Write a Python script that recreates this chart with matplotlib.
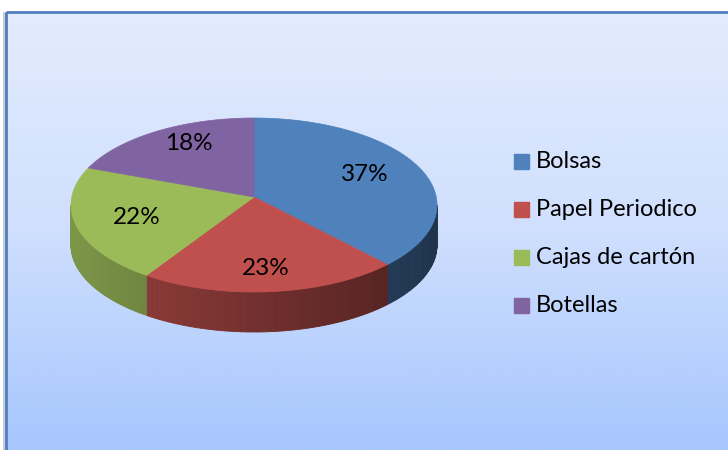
import numpy as np
import matplotlib.pyplot as plt
from matplotlib.patches import Polygon, Rectangle
from matplotlib.collections import PolyCollection
from matplotlib.colors import to_rgb, LinearSegmentedColormap

# data
categories = ['Bolsas', 'Papel Periodico', 'Cajas de cartón', 'Botellas']
shares = [37, 23, 22, 18]
colors = ['#4f81bd', '#c0504d', '#9bbb59', '#8064a2']

plt.rcParams['font.family'] = ['Lato', 'DejaVu Sans']

W, H = 728, 450
fig = plt.figure(figsize=(W / 100, H / 100), dpi=100)
ax = fig.add_axes([0, 0, 1, 1])
ax.set_xlim(0, W)
ax.set_ylim(H, 0)
ax.axis('off')

# chart area: gradient fill and blue border
fx0, fy0 = 6, 12
grad = LinearSegmentedColormap.from_list('bg', ['#e3ecfd', '#cfdffd', '#a6c6fd'])
ax.imshow(np.linspace(0, 1, 256).reshape(-1, 1), cmap=grad, aspect='auto',
          extent=(fx0, W, H, fy0), zorder=0)
ax.add_patch(Rectangle((fx0 - 3, fy0), 3, H, color='#c8ccd2', lw=0, zorder=1))
ax.add_patch(Rectangle((fx0, fy0), W, H, fill=False, ec='#4f7fc0', lw=2, zorder=5))

# 3d pie geometry
cx, cy = 254, 205
rx, ry = 183, 87
depth = 40
apex_y = cy - 8  # perspective: slices meet a bit above the rim centre

fracs = np.array(shares) / np.sum(shares)
ends = 90 - 360 * np.cumsum(fracs)
starts = np.concatenate([[90], ends[:-1]])


def shade(c, x):
    # darker towards the right side of the wall
    f = 0.8 - 0.4 * (x - (cx - rx)) / (2 * rx)
    return tuple(np.clip(np.array(to_rgb(c)) * f, 0, 1))


# side walls (only the front half, angles between -180 and 0)
quads, qcols = [], []
for s, e, c in zip(starts, ends, colors):
    for lo, hi in [(e, s), (e + 360, s + 360)]:
        a0, a1 = max(lo, -180), min(hi, 0)
        if a1 <= a0:
            continue
        t = np.radians(np.linspace(a0, a1, int(a1 - a0) + 2))
        for i in range(len(t) - 1):
            xa, xb = cx + rx * np.cos(t[i]), cx + rx * np.cos(t[i + 1])
            ya, yb = cy - ry * np.sin(t[i]), cy - ry * np.sin(t[i + 1])
            quads.append([(xa, ya), (xb, yb), (xb, yb + depth), (xa, ya + depth)])
            qcols.append(shade(c, (xa + xb) / 2))
ax.add_collection(PolyCollection(quads, facecolors=qcols, edgecolors=qcols,
                                 lw=0.6, zorder=2))

# top faces
for s, e, c in zip(starts, ends, colors):
    t = np.radians(np.linspace(s, e, 200))
    pts = np.column_stack([cx + rx * np.cos(t), cy - ry * np.sin(t)])
    pts = np.vstack([[cx, apex_y], pts])
    ax.add_patch(Polygon(pts, closed=True, fc=c, ec=c, lw=0.5, zorder=3))

# percentage labels
for s, e, v in zip(starts, ends, shares):
    m = np.radians((s + e) / 2)
    ax.text(cx + 0.66 * rx * np.cos(m), cy - 4 - 0.78 * ry * np.sin(m), f'{v}%',
            ha='center', va='center', fontsize=17.5, color='black', zorder=4)

# legend
lx, ly, step = 514, 161, 48
for i, (lab, c) in enumerate(zip(categories, colors)):
    y = ly + i * step
    ax.add_patch(Rectangle((lx, y - 7.5), 15, 15, color=c, zorder=4))
    ax.text(lx + 22, y, lab, ha='left', va='center', fontsize=17,
            color='black', zorder=4)

fig.savefig('out.png', dpi=100)
